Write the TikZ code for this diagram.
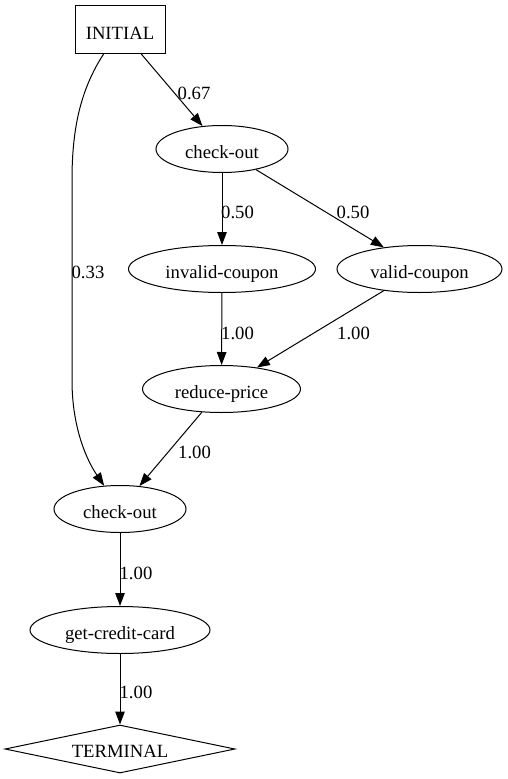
\documentclass[tikz,border=0pt]{standalone}
\usepackage{fontspec}
\setmainfont{Liberation Serif}
\usetikzlibrary{shapes.geometric,arrows.meta}
\tikzset{
  every node/.style={font=\fontsize{18.67}{22}\selectfont},
  state/.style={draw, line width=1pt, ellipse, inner sep=0pt, minimum height=47pt, text height=19pt, text depth=0pt},
  startbox/.style={draw, line width=1pt, rectangle, inner sep=0pt, minimum width=90pt, minimum height=48pt, text height=20pt, text depth=0pt},
  endbox/.style={draw, line width=1pt, diamond, aspect=4.8, inner sep=0pt, minimum width=230pt, minimum height=48pt, text height=17pt, text depth=0pt},
  edge/.style={draw, line width=1pt, -{Triangle[length=13pt,width=9.5pt]}},
  elabel/.style={inner sep=0pt, anchor=center}
}
\begin{document}
\begin{tikzpicture}[x=1pt,y=-1pt]
\useasboundingbox (0,0) rectangle (507,779);
\node[startbox] (init) at (120,29) {INITIAL};
\node[state, minimum width=132pt] (co1) at (222,149) {check-out};
\node[state, minimum width=187pt] (inv) at (222,269) {invalid-coupon};
\node[state, minimum width=165pt] (val) at (419.5,269) {valid-coupon};
\node[state, minimum width=158pt] (red) at (221.5,389) {reduce-price};
\node[state, minimum width=132pt] (co2) at (120,509) {check-out};
\node[state, minimum width=180pt] (gcc) at (120,630) {get-credit-card};
\node[endbox] (term) at (120,749) {TERMINAL};

\draw[edge] (init) -- (co1);
\draw[edge] (init) .. controls (80,90) and (72,130) .. (72,180) -- (72,380) .. controls (72,430) and (88,462) .. (co2);
\draw[edge] (co1) -- (inv);
\draw[edge] (co1) -- (val);
\draw[edge] (inv) -- (red);
\draw[edge] (val) -- (red);
\draw[edge] (red) -- (co2);
\draw[edge] (co2) -- (gcc);
\draw[edge] (gcc) -- (term);

\node[elabel] (l1) at (194,93) {0.67};
\node[elabel] (l2) at (88,272) {0.33};
\node[elabel] (l3) at (237.5,212) {0.50};
\node[elabel] (l4) at (353,212) {0.50};
\node[elabel] (l5) at (237.5,333) {1.00};
\node[elabel] (l6) at (353.5,333) {1.00};
\node[elabel] (l7) at (194.5,452) {1.00};
\node[elabel] (l8) at (136,573) {1.00};
\node[elabel] (l9) at (136,692) {1.00};
\end{tikzpicture}
\end{document}
